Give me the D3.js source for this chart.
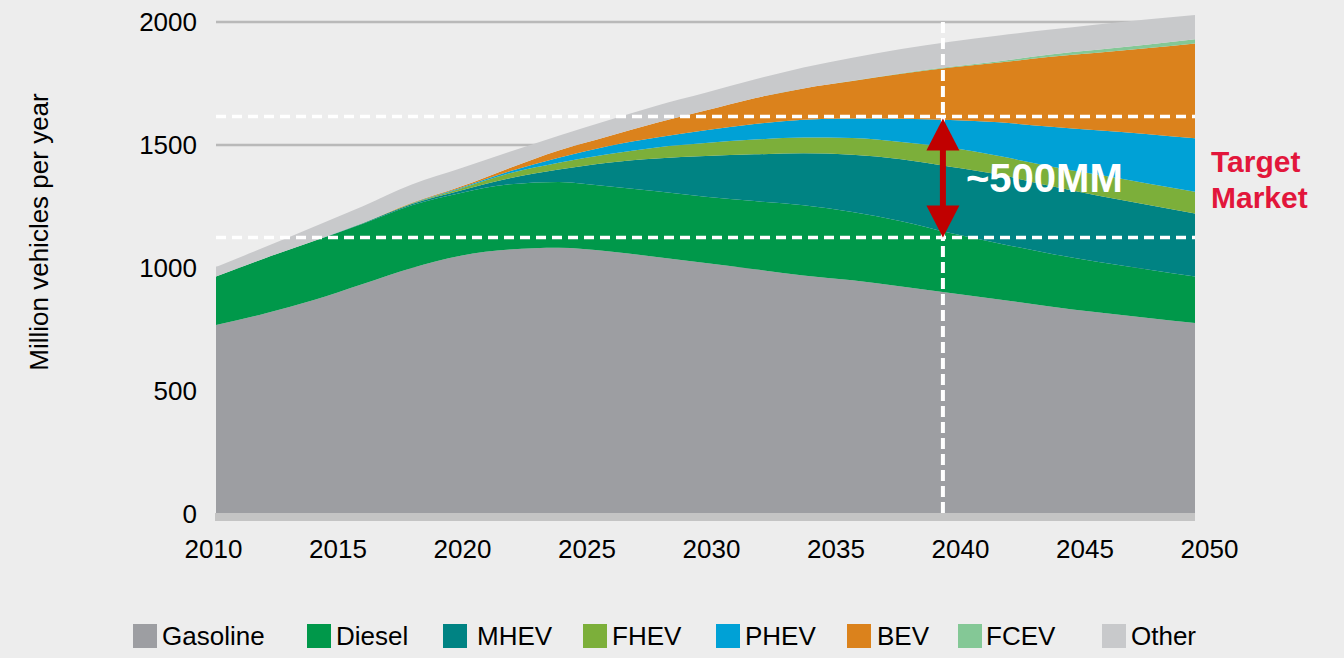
<!DOCTYPE html>
<html>
<head>
<meta charset="utf-8">
<script src="https://cdn.jsdelivr.net/npm/d3@7"></script>
<style>
  html, body { margin: 0; padding: 0; background: #ededed; }
  svg { display: block; font-family: "Liberation Sans", Arial, sans-serif; }
</style>
</head>
<body>
<div class="chart"></div>
<script>
var width = 1344, height = 658;

// data: million vehicles per year, by powertrain
var years    = [2010, 2012, 2014, 2016, 2018, 2020, 2022, 2024, 2026, 2028, 2030, 2032, 2034, 2036, 2038, 2040, 2042, 2044, 2046, 2048, 2050];
var gasoline = [768, 815, 870, 935, 1000, 1050, 1075, 1082, 1068, 1045, 1020, 995, 970, 950, 925, 898, 872, 845, 820, 798, 776];
var diesel   = [197, 225, 240, 245, 255, 255, 265, 268, 264, 267, 270, 277, 285, 278, 265, 244, 228, 215, 205, 197, 189];
var mhev     = [0, 0, 0, 2, 5, 10, 25, 50, 96, 133, 165, 190, 211, 232, 252, 270, 280, 275, 270, 263, 257];
var fhev     = [0, 0, 0, 1, 2, 8, 20, 28, 34, 45, 53, 60, 64, 68, 70, 78, 75, 80, 85, 87, 88];
var phev     = [0, 0, 0, 0, 1, 3, 8, 20, 33, 40, 52, 63, 73, 80, 95, 112, 137, 160, 180, 200, 217];
var bev      = [0, 0, 0, 0, 2, 5, 14, 30, 40, 60, 80, 105, 127, 152, 183, 213, 243, 283, 315, 348, 386];
var fcev     = [0, 0, 0, 0, 0, 0, 0, 0, 0, 0, 0, 0, 0, 1, 2, 3, 5, 9, 12, 15, 17];
var other    = [39, 45, 58, 68, 74, 74, 66, 60, 65, 70, 72, 76, 85, 94, 98, 102, 105, 101, 103, 102, 98];

var seriesNames = ["Gasoline", "Diesel", "MHEV", "FHEV", "PHEV", "BEV", "FCEV", "Other"];
var seriesColors = ["#9d9ea2", "#00984a", "#008383", "#7caf3a", "#00a1d6", "#db821c", "#84c896", "#c8c9cb"];
var xTicks = [2010, 2015, 2020, 2025, 2030, 2035, 2040, 2045, 2050];
var yTicks = [0, 500, 1000, 1500, 2000];

// annotation: target market band
var bandLow = 1124, bandHigh = 1616, markerYear = 2039.7;

var table = years.map(function(yr, i) {
  return {
    year: yr, Gasoline: gasoline[i], Diesel: diesel[i], MHEV: mhev[i], FHEV: fhev[i],
    PHEV: phev[i], BEV: bev[i], FCEV: fcev[i], Other: other[i]
  };
});

var x = d3.scaleLinear().domain([2010, 2050]).range([216, 1195]);
var xLabel = d3.scaleLinear().domain([2010, 2050]).range([213, 1209]);
var y = d3.scaleLinear().domain([0, 2000]).range([514, 22]);
var color = d3.scaleOrdinal().domain(seriesNames).range(seriesColors);

var svg = d3.select('.chart')
  .append('svg')
  .attr('width', width)
  .attr('height', height);

svg.append('rect')
  .attr('width', width).attr('height', height)
  .attr('fill', '#ededed');

// gridlines (behind areas)
svg.append('g')
  .selectAll('line')
  .data(yTicks.filter(function(d) { return d > 0; }))
  .enter().append('line')
  .attr('x1', x(2010)).attr('x2', x(2050))
  .attr('y1', function(d) { return y(d); })
  .attr('y2', function(d) { return y(d); })
  .attr('stroke', '#b9b9b9')
  .attr('stroke-width', 2.5);

var stack = d3.stack().keys(seriesNames);
var layers = stack(table);

var area = d3.area()
  .x(function(d) { return x(d.data.year); })
  .y0(function(d) { return y(d[0]); })
  .y1(function(d) { return y(d[1]); })
  .curve(d3.curveMonotoneX);

svg.append('g')
  .selectAll('path')
  .data(layers)
  .enter().append('path')
  .attr('d', area)
  .attr('fill', function(d) { return color(d.key); });

// base line
svg.append('rect')
  .attr('x', x(2010) - 1)
  .attr('y', y(0) - 1)
  .attr('width', x(2050) - x(2010) + 1)
  .attr('height', 8)
  .attr('fill', '#c4c4c4');

// axes
var yAxis = svg.append('g')
  .attr('transform', 'translate(' + x(2010) + ',0)')
  .call(d3.axisLeft(y).tickValues(yTicks).tickSize(0).tickPadding(19).tickFormat(d3.format('d')));

var xAxis = svg.append('g')
  .attr('transform', 'translate(0,' + 531 + ')')
  .call(d3.axisBottom(xLabel).tickValues(xTicks).tickSize(0).tickPadding(9).tickFormat(d3.format('d')));

[yAxis, xAxis].forEach(function(g) {
  g.select('.domain').remove();
  g.selectAll('text')
    .attr('font-family', '"Liberation Sans", Arial, sans-serif')
    .attr('font-size', 26)
    .attr('fill', '#000');
});

svg.append('text')
  .attr('transform', 'translate(48,232) rotate(-90)')
  .attr('text-anchor', 'middle')
  .attr('font-size', 26)
  .attr('fill', '#000')
  .text('Million vehicles per year');

// dashed guides
var guides = svg.append('g')
  .attr('stroke', '#fff')
  .attr('stroke-width', 3.5)
  .attr('stroke-dasharray', '10 6');

[bandHigh, bandLow].forEach(function(v) {
  guides.append('line')
    .attr('x1', x(2010)).attr('x2', x(2050))
    .attr('y1', y(v)).attr('y2', y(v));
});

guides.append('line')
  .attr('x1', x(markerYear)).attr('x2', x(markerYear))
  .attr('y1', y(2000)).attr('y2', y(0) + 4)
  .attr('stroke-width', 4)
  .attr('stroke-dasharray', '11 5');

// double arrow
var arrowX = x(markerYear), arrowTop = y(bandHigh) + 2, arrowBot = y(bandLow), head = 32, hw = 16.5;
svg.append('rect')
  .attr('x', arrowX - 3).attr('y', arrowTop + head - 2)
  .attr('width', 6).attr('height', arrowBot - arrowTop - 2 * head + 4)
  .attr('fill', '#c00000');
svg.append('path')
  .attr('d', 'M' + arrowX + ',' + arrowTop + 'L' + (arrowX + hw) + ',' + (arrowTop + head) + 'L' + (arrowX - hw) + ',' + (arrowTop + head) + 'Z')
  .attr('fill', '#c00000');
svg.append('path')
  .attr('d', 'M' + arrowX + ',' + arrowBot + 'L' + (arrowX + hw) + ',' + (arrowBot - head) + 'L' + (arrowX - hw) + ',' + (arrowBot - head) + 'Z')
  .attr('fill', '#c00000');

svg.append('text')
  .attr('x', 966).attr('y', 192)
  .attr('font-size', 40)
  .attr('font-weight', 'bold')
  .attr('fill', '#fff')
  .text('~500MM');

svg.append('text')
  .attr('x', 1211).attr('y', 172)
  .attr('font-size', 30)
  .attr('font-weight', 'bold')
  .attr('fill', '#e2163b')
  .text('Target');
svg.append('text')
  .attr('x', 1211).attr('y', 208)
  .attr('font-size', 30)
  .attr('font-weight', 'bold')
  .attr('fill', '#e2163b')
  .text('Market');

// legend
var legendX = [133, 307, 443, 583, 716, 847, 958, 1102];
var legendTextX = [162, 336, 477, 612, 745, 877, 986, 1131];

var legend = svg.append('g')
  .selectAll('g')
  .data(seriesNames)
  .enter().append('g');

legend.append('rect')
  .attr('x', function(d, i) { return legendX[i]; })
  .attr('y', 624)
  .attr('width', 24).attr('height', 24)
  .attr('fill', function(d) { return color(d); });

legend.append('text')
  .attr('x', function(d, i) { return legendTextX[i]; })
  .attr('y', 645)
  .attr('font-size', 26)
  .attr('fill', '#000')
  .text(function(d) { return d; });
</script>
</body>
</html>
